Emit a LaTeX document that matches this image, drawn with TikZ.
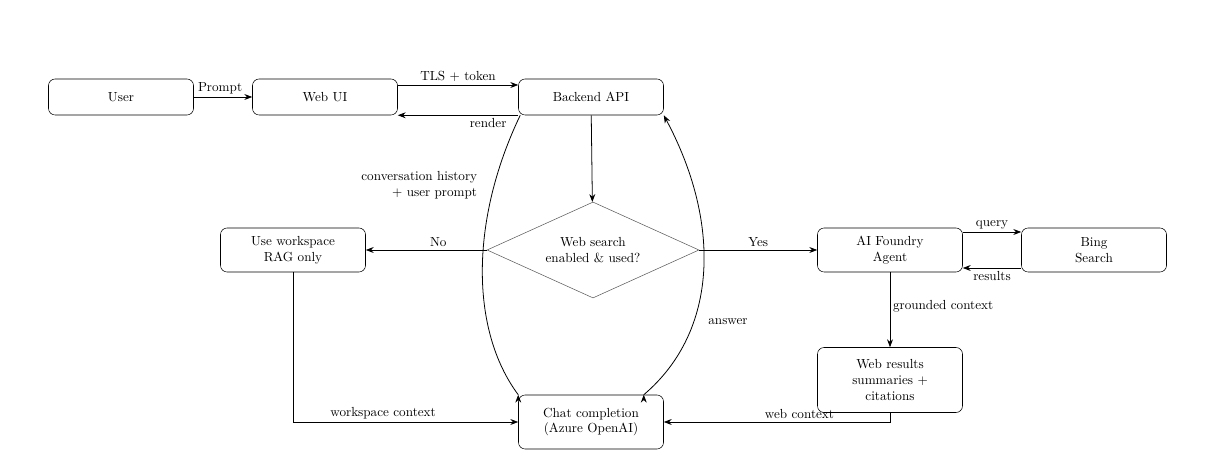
\documentclass[tikz,border=0pt]{standalone}
\usetikzlibrary{shapes.geometric,arrows.meta}
\begin{document}
\begin{tikzpicture}[x=0.76pt,y=-0.76pt,
 box/.style={draw,rounded corners=5pt,minimum width=145*0.76pt,minimum height=36*0.76pt,align=center,inner sep=1pt},
 arr/.style={-{Stealth[length=6pt]},semithick},
 lab/.style={font=\normalsize,inner sep=2pt}]
\useasboundingbox (0,0) rectangle (1217,470);
\node[box] (user) at (121,97) {User};
\node[box] (webui) at (325,97) {Web UI};
\node[box] (api) at (591,97) {Backend API};
\node[draw=black!65,diamond,aspect=2.2,minimum width=212*0.76pt,minimum height=96*0.76pt,align=center,inner sep=0pt] (dec) at (593,250) {Web search\\enabled \& used?};
\node[box,minimum height=44*0.76pt] (rag) at (293,250) {Use workspace\\RAG only};
\node[box,minimum height=44*0.76pt] (agent) at (890,250) {AI Foundry\\Agent};
\node[box,minimum height=44*0.76pt] (bing) at (1094,250) {Bing\\Search};
\node[box,minimum height=65*0.76pt] (web) at (890,380) {Web results\\summaries +\\citations};
\node[box,minimum height=54*0.76pt] (chat) at (591,422) {Chat completion\\(Azure OpenAI)};
\draw[arr] (user) -- node[lab,above,pos=0.45]{Prompt} (webui);
\draw[arr] (webui.east|-0,85) -- node[lab,above]{TLS + token} (api.west|-0,85);
\draw[arr] (api.south west) -- node[lab,below,pos=0.25]{render} (webui.south east);
\draw[arr] (api) -- (dec);
\draw[arr] (api.south west) ++(2,0) coordinate (a1) .. controls (470,220) and (470,330) .. (chat.north west) ++(0,0);
\node[lab,align=right,anchor=east] at (480,185) {conversation history\\+ user prompt};
\draw[arr] (chat.north east) ++(-20,0) coordinate (c1);
\draw[arr] (c1) .. controls (720,330) and (720,220) .. (api.south east);
\node[lab] at (728,322) {answer};
\draw[arr] (dec) -- node[lab,above,pos=0.4]{No} (rag);
\draw[arr] (dec) -- node[lab,above]{Yes} (agent);
\draw[arr] (agent.east|-0,232) -- node[lab,above]{query} (bing.west|-0,232);
\draw[arr] (bing.west|-0,268) -- node[lab,below]{results} (agent.east|-0,268);
\draw[arr] (agent) -- node[lab,right,pos=0.45]{grounded context} (web);
\draw[arr] (web.south) |- node[lab,above,pos=0.7]{web context} (chat.east);
\draw[arr] (rag.south) |- node[lab,above,pos=0.7]{workspace context} (chat.west);
\end{tikzpicture}
\end{document}
